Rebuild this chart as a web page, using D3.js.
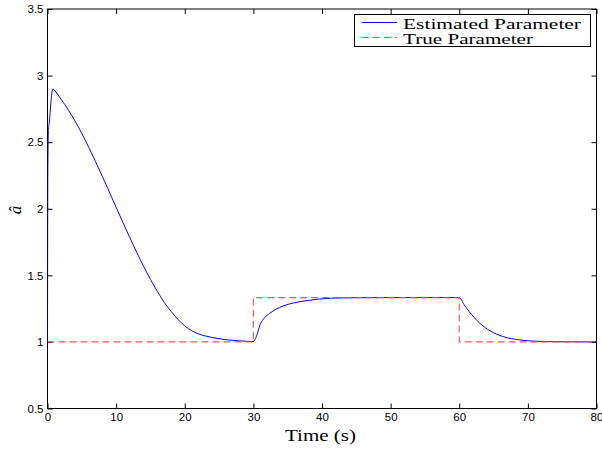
<!DOCTYPE html>
<html>
<head>
<meta charset="utf-8">
<script src="https://cdn.jsdelivr.net/npm/d3@7"></script>
<style>
  html, body { margin: 0; padding: 0; background: #fff; }
  svg { display: block; }
</style>
</head>
<body>
<svg id="chart" width="602" height="452"></svg>
<script>
// ---- data ----
const estTime  = [0, 0.05, 0.15, 0.27, 0.5, 0.76, 1, 2, 3, 4, 5, 6, 7, 8, 9, 10, 11, 12, 13, 14, 15, 16, 17, 18, 19, 20,
                  21, 22, 23, 24, 25, 26, 27, 28, 29, 30,
                  30.5, 30.97, 31.6, 32.4, 33.3, 34.35, 35.8, 37.8, 41.2, 45, 50, 55, 60,
                  60.7, 61.46, 62.9, 64.5, 66.4, 68.8, 71.3, 75, 80];
const estValue = [1.0, 2.3, 2.6, 2.65, 2.8, 2.90, 2.89, 2.82, 2.745, 2.66, 2.565, 2.462, 2.354, 2.242, 2.127, 2.011, 1.896,
                  1.783, 1.673, 1.568, 1.47, 1.38, 1.298, 1.23, 1.17, 1.12,
                  1.085, 1.06, 1.045, 1.033, 1.024, 1.017, 1.012, 1.008, 1.005, 1.003,
                  1.05, 1.128, 1.18, 1.215, 1.245, 1.27, 1.292, 1.31, 1.328, 1.332, 1.333, 1.333, 1.333,
                  1.28, 1.227, 1.145, 1.083, 1.04, 1.015, 1.005, 1.001, 1.0];
const trueTime  = [0, 30, 30, 60, 60, 80];
const trueValue = [1, 1, 1.3333, 1.3333, 1, 1];
const xTicks = [0, 10, 20, 30, 40, 50, 60, 70, 80];
const yTicks = [0.5, 1, 1.5, 2, 2.5, 3, 3.5];
const seriesNames = ["Estimated Parameter", "True Parameter"];

// ---- layout ----
const svg = d3.select("#chart");
const L = 47.5, R = 596.5, T = 9, B = 408.5;
const x = d3.scaleLinear().domain([0, 80]).range([L, R]);
const y = d3.scaleLinear().domain([0.5, 3.5]).range([B, T]);

const sans = "'Liberation Sans', Arial, Helvetica, sans-serif";
const serif = "'Liberation Serif', 'Times New Roman', serif";
const blue = "#0000ff", red = "#ff4444";

// clip
svg.append("clipPath").attr("id", "clip")
  .append("rect").attr("x", L).attr("y", T).attr("width", R - L).attr("height", B - T);

// axes (ticks inward)
const tickLen = 5;
const gx = svg.append("g").attr("transform", `translate(0,${B})`)
  .call(d3.axisBottom(x).tickValues(xTicks).tickSize(-tickLen).tickPadding(9).tickFormat(d3.format("d")));
const gxTop = svg.append("g").attr("transform", `translate(0,${T})`)
  .call(d3.axisTop(x).tickValues(xTicks).tickSize(-tickLen).tickFormat(""));
const gy = svg.append("g").attr("transform", `translate(${L},0)`)
  .call(d3.axisLeft(y).tickValues(yTicks).tickSize(-tickLen).tickPadding(9).tickFormat(d => String(d)));
const gyR = svg.append("g").attr("transform", `translate(${R},0)`)
  .call(d3.axisRight(y).tickValues(yTicks).tickSize(-tickLen).tickFormat(""));

[gx, gxTop, gy, gyR].forEach(g => {
  g.select(".domain").remove();
  g.selectAll(".tick line").attr("stroke", "#000").attr("stroke-width", 1);
  g.selectAll(".tick text").attr("fill", "#000").attr("font-family", sans).attr("font-size", 11.5);
});
gx.selectAll(".tick text").attr("dy", "0.71em").attr("y", 4.5);
gy.selectAll(".tick text").attr("x", -4);

// frame
svg.append("rect").attr("x", L).attr("y", T).attr("width", R - L).attr("height", B - T)
  .attr("fill", "none").attr("stroke", "#000").attr("stroke-width", 1);

// lines
const estData = estTime.map((t, i) => [t, estValue[i]]);
const trueData = trueTime.map((t, i) => [t, trueValue[i]]);
const plot = svg.append("g").attr("clip-path", "url(#clip)");
plot.append("path").datum(estData)
  .attr("d", d3.line().x(d => x(d[0])).y(d => y(d[1])).curve(d3.curveMonotoneX))
  .attr("fill", "none").attr("stroke", blue).attr("stroke-width", 1);
plot.append("path").datum(trueData)
  .attr("d", d3.line().x(d => x(d[0])).y(d => y(d[1])))
  .attr("fill", "none").attr("stroke", red).attr("stroke-width", 1.2)
  .attr("stroke-dasharray", "7,4").attr("stroke-opacity", 0.9);

// legend
const lg = svg.append("g");
lg.append("rect").attr("x", 354.5).attr("y", 14.5).attr("width", 236).attr("height", 32)
  .attr("fill", "#fff").attr("stroke", "#000").attr("stroke-width", 1);
const rows = [
  { name: seriesNames[0], color: blue, dash: null, ly: 22.5, ty: 28.5, w: 178 },
  { name: seriesNames[1], color: red, dash: "7,4", ly: 37.5, ty: 44.3, w: 130 }
];
rows.forEach(r => {
  const l = lg.append("line").attr("x1", 362).attr("x2", 397).attr("y1", r.ly).attr("y2", r.ly)
    .attr("stroke", r.color).attr("stroke-width", 1.1);
  if (r.dash) l.attr("stroke-dasharray", r.dash).attr("stroke-opacity", 0.9);
  lg.append("text").attr("x", 403).attr("y", r.ty).text(r.name)
    .attr("font-family", serif).attr("font-size", 14)
    .attr("textLength", r.w).attr("lengthAdjust", "spacingAndGlyphs").attr("fill", "#000");
});

// axis labels
svg.append("text").attr("x", 285).attr("y", 440.5).text("Time (s)")
  .attr("font-family", serif).attr("font-size", 16.5)
  .attr("textLength", 71).attr("lengthAdjust", "spacingAndGlyphs").attr("fill", "#000");
svg.append("text").attr("transform", "translate(21,210) rotate(-90)")
  .attr("text-anchor", "middle").text("\u00e2")
  .attr("font-family", serif).attr("font-style", "italic").attr("font-size", 17).attr("fill", "#000");
</script>
</body>
</html>
